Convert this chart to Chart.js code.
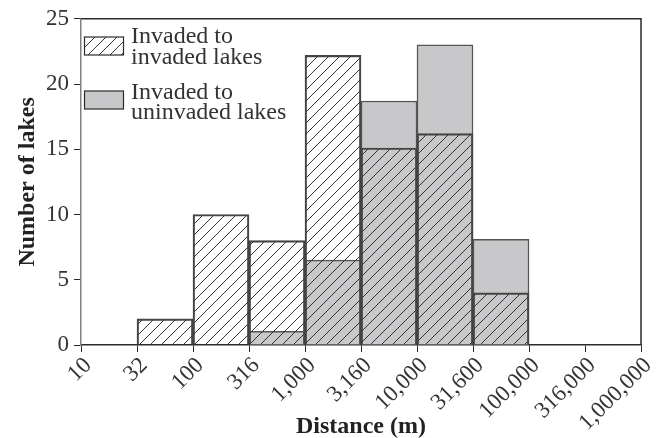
<!DOCTYPE html>
<html lang="en">
<head>
    <meta charset="UTF-8">
    <title>Distance between lakes</title>
    <script src="https://cdn.jsdelivr.net/npm/chart.js"></script>
    <style>
        body { margin: 0; background: #ffffff; }
        .chart-container { position: relative; width: 661px; height: 438px; }
    </style>
</head>
<body>
    <div class="chart-container">
        <canvas id="lakeChart" width="661" height="438"></canvas>
    </div>
    <script>
        // bin edges (log scale) used as tick labels
        const edgeLabels = ["10", "32", "100", "316", "1,000", "3,160", "10,000", "31,600", "100,000", "316,000", "1,000,000"];
        // one value per bin (between two edges), null = no bar
        const invadedToInvaded = [null, 2, 10, 8, 22.2, 15.1, 16.2, 4, null, null];
        const invadedToUninvaded = [null, null, null, 1.05, 6.5, 18.7, 23, 8.1, null, null];
        const yTicks = [0, 5, 10, 15, 20, 25];

        const serif = "'Liberation Serif', 'DejaVu Serif', serif";
        const inkColor = '#2b2b2b';
        const greyFill = '#c8c8ca';

        // diagonal hatch pattern
        function makeHatch() {
            const size = 11;
            const c = document.createElement('canvas');
            c.width = size; c.height = size;
            const g = c.getContext('2d');
            g.strokeStyle = '#333333';
            g.lineWidth = 1;
            g.beginPath();
            g.moveTo(0, size); g.lineTo(size, 0);
            g.moveTo(-1, 1); g.lineTo(1, -1);
            g.moveTo(size - 1, size + 1); g.lineTo(size + 1, size - 1);
            g.stroke();
            return g.createPattern(c, 'repeat');
        }
        const hatch = makeHatch();

        const toPoints = arr => arr.map((v, i) => ({ x: i + 0.5, y: v })).filter(p => p.y !== null);

        // frame + legend drawn by hand (two-line labels)
        const framePlugin = {
            id: 'frame',
            afterDraw(chart) {
                const { ctx, chartArea: a } = chart;
                ctx.save();
                ctx.strokeStyle = inkColor;
                ctx.lineWidth = 1.5;
                ctx.beginPath();
                ctx.moveTo(a.left, a.top); ctx.lineTo(a.right, a.top); ctx.lineTo(a.right, a.bottom);
                ctx.stroke();

                const items = [
                    { fill: hatch, lines: ['Invaded to', 'invaded lakes'], y: 37, dy: [6, 27] },
                    { fill: greyFill, lines: ['Invaded to', 'uninvaded lakes'], y: 91, dy: [8, 28] }
                ];
                ctx.font = '24px ' + serif;
                ctx.textBaseline = 'alphabetic';
                items.forEach(it => {
                    const bx = a.left + 3.5;
                    ctx.fillStyle = '#ffffff';
                    ctx.fillRect(bx, it.y, 39, 18);
                    ctx.fillStyle = it.fill;
                    ctx.fillRect(bx, it.y, 39, 18);
                    ctx.strokeStyle = inkColor;
                    ctx.lineWidth = 1.2;
                    ctx.strokeRect(bx, it.y, 39, 18);
                    ctx.fillStyle = '#333333';
                    ctx.fillText(it.lines[0], a.left + 50, it.y + it.dy[0]);
                    ctx.fillText(it.lines[1], a.left + 50, it.y + it.dy[1]);
                });
                ctx.restore();
            }
        };

        const ctx = document.getElementById('lakeChart').getContext('2d');
        new Chart(ctx, {
            type: 'bar',
            data: {
                datasets: [
                    {
                        label: 'Invaded to uninvaded lakes',
                        data: toPoints(invadedToUninvaded),
                        backgroundColor: greyFill,
                        borderColor: '#555555',
                        borderWidth: 1.5,
                        order: 2
                    },
                    {
                        label: 'Invaded to invaded lakes',
                        data: toPoints(invadedToInvaded),
                        backgroundColor: hatch,
                        borderColor: '#444444',
                        borderWidth: 1.5,
                        order: 1
                    }
                ]
            },
            options: {
                responsive: false,
                animation: false,
                devicePixelRatio: 1,
                layout: { padding: { top: 17, right: 20, left: 0, bottom: 0 } },
                datasets: {
                    bar: { grouped: false, barPercentage: 1, categoryPercentage: 1 }
                },
                plugins: {
                    legend: { display: false },
                    tooltip: { enabled: false }
                },
                scales: {
                    x: {
                        type: 'linear',
                        min: 0,
                        max: 10,
                        offset: false,
                        grid: { display: true, offset: false, drawOnChartArea: false, drawTicks: true, tickLength: 7, color: inkColor },
                        border: { display: true, color: inkColor, width: 1.5 },
                        afterBuildTicks(scale) {
                            scale.ticks = edgeLabels.map((_, i) => ({ value: i }));
                        },
                        afterFit(scale) { scale.height = 93; },
                        ticks: {
                            autoSkip: false,
                            minRotation: 45,
                            maxRotation: 45,
                            padding: 0,
                            labelOffset: 7,
                            color: '#333333',
                            font: { family: serif, size: 23 },
                            callback: v => edgeLabels[v]
                        },
                        title: {
                            display: true,
                            text: 'Distance (m)',
                            color: '#222222',
                            font: { family: serif, size: 24, weight: 'bold' },
                            padding: { top: 0, bottom: -3 }
                        }
                    },
                    y: {
                        min: 0,
                        max: 25,
                        afterBuildTicks(scale) {
                            scale.ticks = yTicks.map(v => ({ value: v }));
                        },
                        afterFit(scale) { scale.width = 81; },
                        grid: { display: true, drawOnChartArea: false, drawTicks: true, tickLength: 7, color: inkColor },
                        border: { display: true, color: '#808080', width: 1.5 },
                        ticks: {
                            color: '#333333',
                            padding: 5,
                            font: { family: serif, size: 23 }
                        },
                        title: {
                            display: true,
                            text: 'Number of lakes',
                            color: '#222222',
                            font: { family: serif, size: 24, weight: 'bold' },
                            padding: { top: 13, bottom: 0 }
                        }
                    }
                }
            },
            plugins: [framePlugin]
        });
    </script>
</body>
</html>
